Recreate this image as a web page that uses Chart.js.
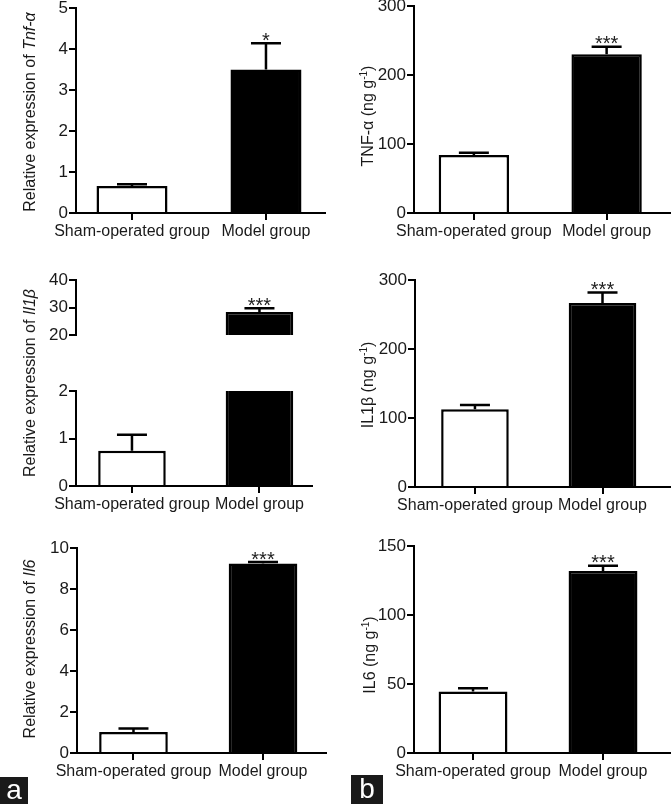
<!DOCTYPE html>
<html lang="en">
<head>
<meta charset="UTF-8" />
<title>Tnf-α, Il1β and Il6 in sham-operated and model groups</title>
<script src="https://cdn.jsdelivr.net/npm/chart.js@4"></script>
<style>
  body {
    margin: 0;
    width: 671px;
    height: 804px;
    position: relative;
    overflow: hidden;
    background: #fff;
    font-family: "Liberation Sans", Arial, sans-serif;
    color: #1a1a1a;
  }
  canvas { position: absolute; }
  .ytitle {
    position: absolute;
    transform: translate(-50%, -50%) rotate(-90deg);
    white-space: nowrap;
    font-size: 16px;
    line-height: 1;
  }
  .ytitle sup { font-size: 10px; vertical-align: 6px; line-height: 0; }
  .tag {
    position: absolute;
    background: #1a1a1a;
    color: #fff;
    font-size: 28px;
    text-align: center;
  }
</style>
</head>
<body>
<script>
  const groups = ["Sham-operated group", "Model group"];

  // (a) relative mRNA expression
  const tnfExprMean = [0.66, 3.50];
  const tnfExprErr = [0.04, 0.64];
  const tnfExprTicks = [0, 1, 2, 3, 4, 5];
  const il1bExprMean = [0.74, 28.4];
  const il1bExprErr = [0.34, 1.3];
  const il1bExprTicksLow = [0, 1, 2];
  const il1bExprTicksHigh = [20, 30, 40];
  const il6ExprMean = [1.02, 9.25];
  const il6ExprErr = [0.17, 0.07];
  const il6ExprTicks = [0, 2, 4, 6, 8, 10];

  // (b) tissue content, ng/g
  const tnfConcMean = [84, 230];
  const tnfConcErr = [3.4, 11];
  const tnfConcTicks = [0, 100, 200, 300];
  const il1bConcMean = [112.8, 266.6];
  const il1bConcErr = [6.2, 15.4];
  const il1bConcTicks = [0, 100, 200, 300];
  const il6ConcMean = [44.6, 131.9];
  const il6ConcErr = [2.4, 3.8];
  const il6ConcTicks = [0, 50, 100, 150];

  const oneStar = ["", "*"];
  const threeStars = ["", "***"];

  Chart.defaults.font.family = '"Liberation Sans", Arial, sans-serif';
  Chart.defaults.font.size = 16;
  Chart.defaults.color = "#1a1a1a";

  const PAD = 20;   // room above/below chart area for end tick labels
  const XH = 40;    // height of x axis box
  const CAP = 15;   // half width of error bar caps

  // error bars (upper half only) + significance stars
  const errorBars = {
    id: "errorBars",
    afterDatasetsDraw(chart, args, o) {
      const { ctx } = chart;
      const y = chart.scales.y;
      const meta = chart.getDatasetMeta(0);
      ctx.save();
      ctx.strokeStyle = "#000";
      ctx.lineWidth = 2.5;
      o.mean.forEach((v, i) => {
        const top = v + o.err[i];
        if (top < y.min || top > y.max) return;
        const px = meta.data[i].x;
        const y0 = y.getPixelForValue(Math.max(v, y.min));
        const y1 = y.getPixelForValue(top);
        ctx.beginPath();
        ctx.moveTo(px, y0);
        ctx.lineTo(px, y1);
        ctx.moveTo(px - CAP, y1);
        ctx.lineTo(px + CAP, y1);
        ctx.stroke();
        if (o.stars && o.stars[i]) {
          ctx.fillStyle = "#222";
          ctx.font = '20px "Liberation Sans", Arial, sans-serif';
          ctx.textAlign = "center";
          ctx.textBaseline = "alphabetic";
          ctx.fillText(o.stars[i], px, y1 + 3.7);
        }
      });
      ctx.restore();
    },
  };

  function axisLook() {
    return {
      grid: {
        display: true,
        drawOnChartArea: false,
        drawTicks: true,
        tickLength: 7,
        color: "#000",
        lineWidth: 2,
        offset: false,
      },
      border: { display: true, color: "#000", width: 2 },
    };
  }

  function makeChart(p) {
    const top = p.area.top - PAD;
    const w = p.area.right - p.left;
    const h = p.area.bottom + (p.showX ? XH : PAD) - top;
    const canvas = document.createElement("canvas");
    canvas.style.left = p.left + "px";
    canvas.style.top = top + "px";
    canvas.style.width = w + "px";
    canvas.style.height = h + "px";
    canvas.width = w;
    canvas.height = h;
    document.body.appendChild(canvas);

    const yTicks = p.ticks;
    return new Chart(canvas, {
      type: "bar",
      data: {
        datasets: [
          {
            data: p.mean.map((v, i) => ({ x: i, y: v })),
            backgroundColor: ["#fff", "#000"],
            borderColor: "#000",
            borderWidth: 2.5,
            barPercentage: 0.53,
            categoryPercentage: 1,
            clip: 0,
          },
        ],
      },
      options: {
        responsive: false,
        animation: false,
        events: [],
        layout: { padding: { top: PAD, bottom: p.showX ? 0 : PAD, left: 0, right: 0 } },
        plugins: {
          legend: { display: false },
          tooltip: { enabled: false },
          errorBars: { mean: p.mean, err: p.err, stars: p.stars },
        },
        scales: {
          x: {
            type: "linear",
            display: p.showX,
            offset: false,
            min: p.xRange[0],
            max: p.xRange[1],
            afterBuildTicks: (s) => {
              s.ticks = groups.map((g, i) => ({ value: i }));
            },
            afterFit: (s) => {
              s.height = XH;
            },
            ticks: {
              callback: (v) => groups[v],
              autoSkip: false,
              maxRotation: 0,
              minRotation: 0,
              padding: 2,
            },
            ...axisLook(),
          },
          y: {
            min: yTicks[0],
            max: yTicks[yTicks.length - 1],
            afterBuildTicks: (s) => {
              s.ticks = yTicks.map((v) => ({ value: v }));
            },
            afterFit: (s) => {
              s.width = p.area.left - p.left;
            },
            ticks: { callback: (v) => String(v), padding: 1, font: { size: 17 } },
            ...axisLook(),
          },
        },
      },
      plugins: [errorBars],
    });
  }

  function yTitle(html, x, y) {
    const d = document.createElement("div");
    d.className = "ytitle";
    d.innerHTML = html;
    d.style.left = x + "px";
    d.style.top = y + "px";
    document.body.appendChild(d);
  }

  function tag(text, left, top, w, h) {
    const d = document.createElement("div");
    d.className = "tag";
    d.textContent = text;
    d.style.left = left + "px";
    d.style.top = top + "px";
    d.style.width = w + "px";
    d.style.height = h + "px";
    d.style.lineHeight = h - 2 + "px";
    document.body.appendChild(d);
  }

  // left column (a)
  makeChart({
    left: 0, area: { left: 76, top: 8, right: 326, bottom: 213 }, showX: true,
    xRange: [-0.418, 1.448], ticks: tnfExprTicks,
    mean: tnfExprMean, err: tnfExprErr, stars: oneStar,
  });
  makeChart({
    left: 0, area: { left: 76, top: 280, right: 313, bottom: 375 }, showX: false,
    xRange: [-0.439, 1.42], ticks: il1bExprTicksHigh,
    mean: il1bExprMean, err: il1bExprErr, stars: threeStars,
  });
  makeChart({
    left: 0, area: { left: 76, top: 391, right: 313, bottom: 486 }, showX: true,
    xRange: [-0.439, 1.42], ticks: il1bExprTicksLow,
    mean: il1bExprMean, err: il1bExprErr, stars: null,
  });
  makeChart({
    left: 0, area: { left: 77, top: 548, right: 327, bottom: 753 }, showX: true,
    xRange: [-0.436, 1.494], ticks: il6ExprTicks,
    mean: il6ExprMean, err: il6ExprErr, stars: threeStars,
  });

  // right column (b)
  makeChart({
    left: 335, area: { left: 414, top: 6, right: 671, bottom: 213 }, showX: true,
    xRange: [-0.451, 1.485], ticks: tnfConcTicks,
    mean: tnfConcMean, err: tnfConcErr, stars: threeStars,
  });
  makeChart({
    left: 335, area: { left: 415, top: 280, right: 671, bottom: 487 }, showX: true,
    xRange: [-0.47, 1.537], ticks: il1bConcTicks,
    mean: il1bConcMean, err: il1bConcErr, stars: threeStars,
  });
  makeChart({
    left: 335, area: { left: 414, top: 546, right: 671, bottom: 753 }, showX: true,
    xRange: [-0.454, 1.523], ticks: il6ConcTicks,
    mean: il6ConcMean, err: il6ConcErr, stars: threeStars,
  });

  yTitle("Relative expression of <i>Tnf-α</i>", 30, 112);
  yTitle("Relative expression of <i>Il1β</i>", 30, 383);
  yTitle("Relative expression of <i>Il6</i>", 30, 649);
  yTitle("TNF-α (ng g<sup>-1</sup>)", 368, 116);
  yTitle("IL1β (ng g<sup>-1</sup>)", 368, 385);
  yTitle("IL6 (ng g<sup>-1</sup>)", 370, 655);

  tag("a", 0, 777, 28, 27);
  tag("b", 351, 775, 32, 29);
</script>
</body>
</html>
